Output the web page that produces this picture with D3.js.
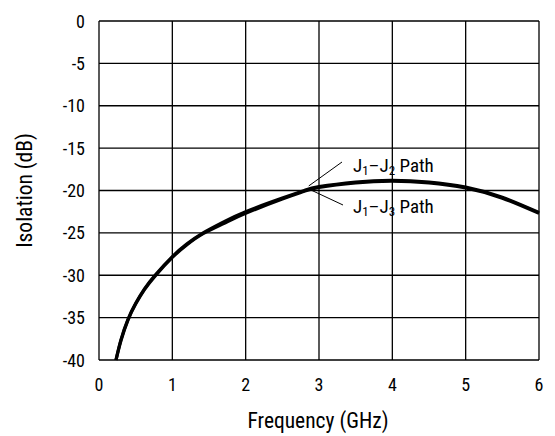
<!DOCTYPE html>
<html><head><meta charset="utf-8">
<script src="https://cdn.jsdelivr.net/npm/d3@7"></script>
<style>
body{margin:0;background:#fff;}
text{font-family:"Liberation Sans Narrow","Roboto Condensed","Liberation Sans",Arial,sans-serif;fill:#000;}
</style></head><body>
<svg id="c" width="555" height="436"></svg>
<script>
const xTicks = [0,1,2,3,4,5,6];
const yTicks = [0,-5,-10,-15,-20,-25,-30,-35,-40];
const freq12 = [0.232,0.3,0.395,0.5,0.62,0.764,1.0,1.2,1.42,1.7,2.0,2.5,2.8,3.0,3.5,4.0,4.5,5.0,5.5,6.0];
const iso12  = [-40,-37.6,-35.2,-33.3,-31.6,-30,-27.8,-26.3,-25,-23.7,-22.5,-20.9,-20,-19.55,-19.0,-18.8,-19.0,-19.6,-20.8,-22.6];
const freq13 = [0.232,0.3,0.395,0.5,0.62,0.764,1.0,1.2,1.42,1.7,2.0,2.5,2.8,3.0,3.5,4.0,4.5,5.0,5.5,6.0];
const iso13  = [-40,-37.7,-35.3,-33.4,-31.7,-30.1,-27.9,-26.4,-25.1,-23.9,-22.7,-21.0,-20.1,-19.65,-19.1,-18.9,-19.1,-19.7,-20.9,-22.7];
const labels = [["J","1","–J","2"," Path"],["J","1","–J","3"," Path"]];

const svg = d3.select("#c");
const x = d3.scaleLinear().domain([0,6]).range([99,539]);
const y = d3.scaleLinear().domain([-40,0]).range([360,21]);

// grid
svg.append("g").selectAll("line").data(xTicks).join("line")
  .attr("x1",d=>x(d)).attr("x2",d=>x(d)).attr("y1",y(0)).attr("y2",y(-40))
  .attr("stroke","#000").attr("stroke-width",1.3);
svg.append("g").selectAll("line").data(yTicks).join("line")
  .attr("y1",d=>y(d)).attr("y2",d=>y(d)).attr("x1",x(0)).attr("x2",x(6))
  .attr("stroke","#000").attr("stroke-width",1.3);

// tick labels
svg.append("g").selectAll("text").data(xTicks).join("text")
  .attr("x",d=>x(d)).attr("y",391).attr("text-anchor","middle")
  .attr("font-size",18).text(d=>d);
svg.append("g").selectAll("text").data(yTicks).join("text")
  .attr("x",85).attr("y",d=>y(d)+6.5).attr("text-anchor","end")
  .attr("font-size",18).text(d=>d);

// axis titles
svg.append("text").attr("x",318).attr("y",428).attr("text-anchor","middle")
  .attr("font-size",21.5).text("Frequency (GHz)");
svg.append("text").attr("transform",`translate(31.5,${y(-20)}) rotate(-90)`)
  .attr("text-anchor","middle").attr("font-size",21.5).text("Isolation (dB)");

// curves
const line = d3.line().x(d=>x(d[0])).y(d=>y(d[1])).curve(d3.curveNatural);
svg.append("path").datum(d3.zip(freq12,iso12)).attr("d",line)
  .attr("fill","none").attr("stroke","#000").attr("stroke-width",3.2);
svg.append("path").datum(d3.zip(freq13,iso13)).attr("d",line)
  .attr("fill","none").attr("stroke","#000").attr("stroke-width",3.2);

// annotations
const px = x(2.86), py = y(-19.7);
svg.append("line").attr("x1",px).attr("y1",py-2).attr("x2",342).attr("y2",162)
  .attr("stroke","#000").attr("stroke-width",1);
svg.append("line").attr("x1",px).attr("y1",py+1).attr("x2",343).attr("y2",205)
  .attr("stroke","#000").attr("stroke-width",1);
[172,213].forEach((by,i)=>{
  const t = svg.append("text").attr("x",353).attr("y",by).attr("font-size",19);
  labels[i].forEach((s,j)=>{
    const ts = t.append("tspan").text(s);
    if (j===1 || j===3) ts.attr("font-size",13).attr("dy",3);
    else if (j>1) ts.attr("dy",-3);
  });
});
</script>
</body></html>
